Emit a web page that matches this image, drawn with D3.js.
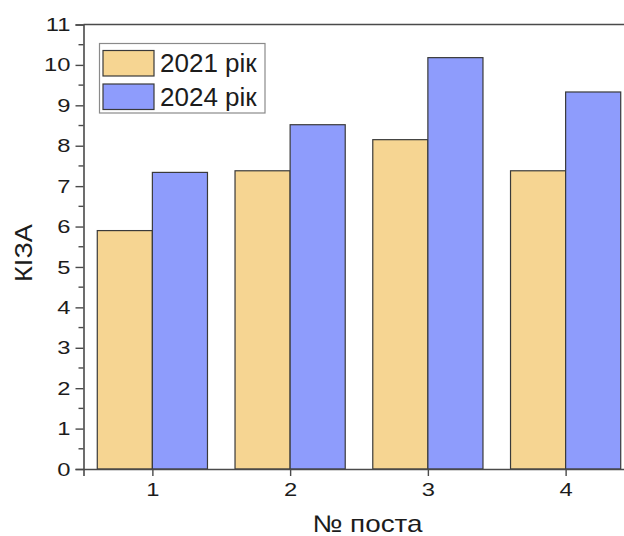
<!DOCTYPE html>
<html>
<head>
<meta charset="utf-8">
<script src="https://cdn.jsdelivr.net/npm/d3@7"></script>
<style>
  html, body { margin: 0; padding: 0; background: #fff; }
  svg { display: block; font-family: "Liberation Sans", Arial, sans-serif; }
</style>
</head>
<body>
<svg id="chart" width="624" height="536"></svg>
<script>
const categories = [1, 2, 3, 4];
const seriesNames = ["2021 рік", "2024 рік"];
const values2021 = [5.9, 7.38, 8.15, 7.38];
const values2024 = [7.34, 8.52, 10.18, 9.33];
const yTicks = [0, 1, 2, 3, 4, 5, 6, 7, 8, 9, 10, 11];
const xTitle = "№ поста";
const yTitle = "КІЗА";

const colors = ["#F6D592", "#8E9CFC"];
const series = [values2021, values2024];

const svg = d3.select("#chart");
const mLeft = 83.5, mRight = 634.5, mTop = 24.5, mBottom = 469;

const x = d3.scaleLinear().domain([0.5, 4.5]).range([mLeft, mRight]);
const y = d3.scaleLinear().domain([0, 11]).range([mBottom, mTop]);
const barW = 0.4;
const stretch = 1.25;

// bars
series.forEach((vals, si) => {
  svg.append("g").selectAll("rect").data(categories).join("rect")
    .attr("x", (c) => x(c - barW + si * barW))
    .attr("width", (c) => x(c + barW) - x(c))
    .attr("y", (c, i) => y(vals[i]))
    .attr("height", (c, i) => y(0) - y(vals[i]))
    .attr("fill", colors[si])
    .attr("stroke", "#3a3a3a")
    .attr("stroke-width", 1.2);
});

const axisColor = "#4a4a4a";
const textColor = "#1c1c1c";

// frame lines
svg.append("line").attr("x1", mLeft).attr("x2", mRight).attr("y1", mTop).attr("y2", mTop)
  .attr("stroke", axisColor).attr("stroke-width", 1.6);
svg.append("line").attr("x1", mRight).attr("x2", mRight).attr("y1", mTop).attr("y2", mBottom)
  .attr("stroke", axisColor).attr("stroke-width", 1.6);

// y axis
const yAxis = d3.axisLeft(y).tickValues(yTicks).tickSize(8).tickPadding(5).tickFormat(d3.format("d"));
const gy = svg.append("g").attr("transform", `translate(${mLeft},0)`).call(yAxis);
gy.attr("font-size", 19).attr("font-family", "'Liberation Sans', Arial, sans-serif");
gy.select(".domain").attr("stroke", axisColor).attr("stroke-width", 1.6);
gy.selectAll(".tick line").attr("stroke", axisColor).attr("stroke-width", 1.4);
gy.selectAll(".tick text").attr("fill", textColor)
  .attr("x", -13 / stretch).attr("transform", `scale(${stretch},1)`);
// minor ticks
const minor = d3.range(0.5, 11, 1);
svg.append("g").selectAll("line").data(minor).join("line")
  .attr("x1", mLeft - 5).attr("x2", mLeft).attr("y1", (d) => y(d)).attr("y2", (d) => y(d))
  .attr("stroke", axisColor).attr("stroke-width", 1.4);

// x axis
const xAxis = d3.axisBottom(x).tickValues(categories).tickSize(7).tickPadding(7).tickFormat(d3.format("d"));
const gx = svg.append("g").attr("transform", `translate(0,${mBottom})`).call(xAxis);
gx.attr("font-size", 19).attr("font-family", "'Liberation Sans', Arial, sans-serif");
gx.select(".domain").attr("stroke", axisColor).attr("stroke-width", 1.6);
gx.selectAll(".tick line").attr("stroke", axisColor).attr("stroke-width", 1.4);
gx.selectAll(".tick text").attr("fill", textColor).attr("transform", `scale(${stretch},1)`);

// axis titles
svg.append("text").attr("x", 367.5).attr("y", 532).attr("text-anchor", "middle")
  .attr("font-size", 24).attr("fill", textColor)
  .attr("textLength", 110).attr("lengthAdjust", "spacingAndGlyphs").text(xTitle);
svg.append("text").attr("transform", "translate(32,253) rotate(-90)").attr("text-anchor", "middle")
  .attr("font-size", 23).attr("fill", textColor)
  .attr("textLength", 58).attr("lengthAdjust", "spacingAndGlyphs").text(yTitle);

// legend
const lg = svg.append("g");
lg.append("rect").attr("x", 99.5).attr("y", 43.5).attr("width", 165.5).attr("height", 69.5)
  .attr("fill", "#fff").attr("stroke", "#8a8a8a").attr("stroke-width", 1.2);
seriesNames.forEach((name, i) => {
  const yy = 50.5 + i * 33.5;
  lg.append("rect").attr("x", 103).attr("y", yy).attr("width", 51).attr("height", 25.5)
    .attr("fill", colors[i]).attr("stroke", "#3a3a3a").attr("stroke-width", 1.2);
  lg.append("text").attr("x", 160).attr("y", yy + 21.5).attr("font-size", 26)
    .attr("fill", textColor).text(name);
});
</script>
</body>
</html>
